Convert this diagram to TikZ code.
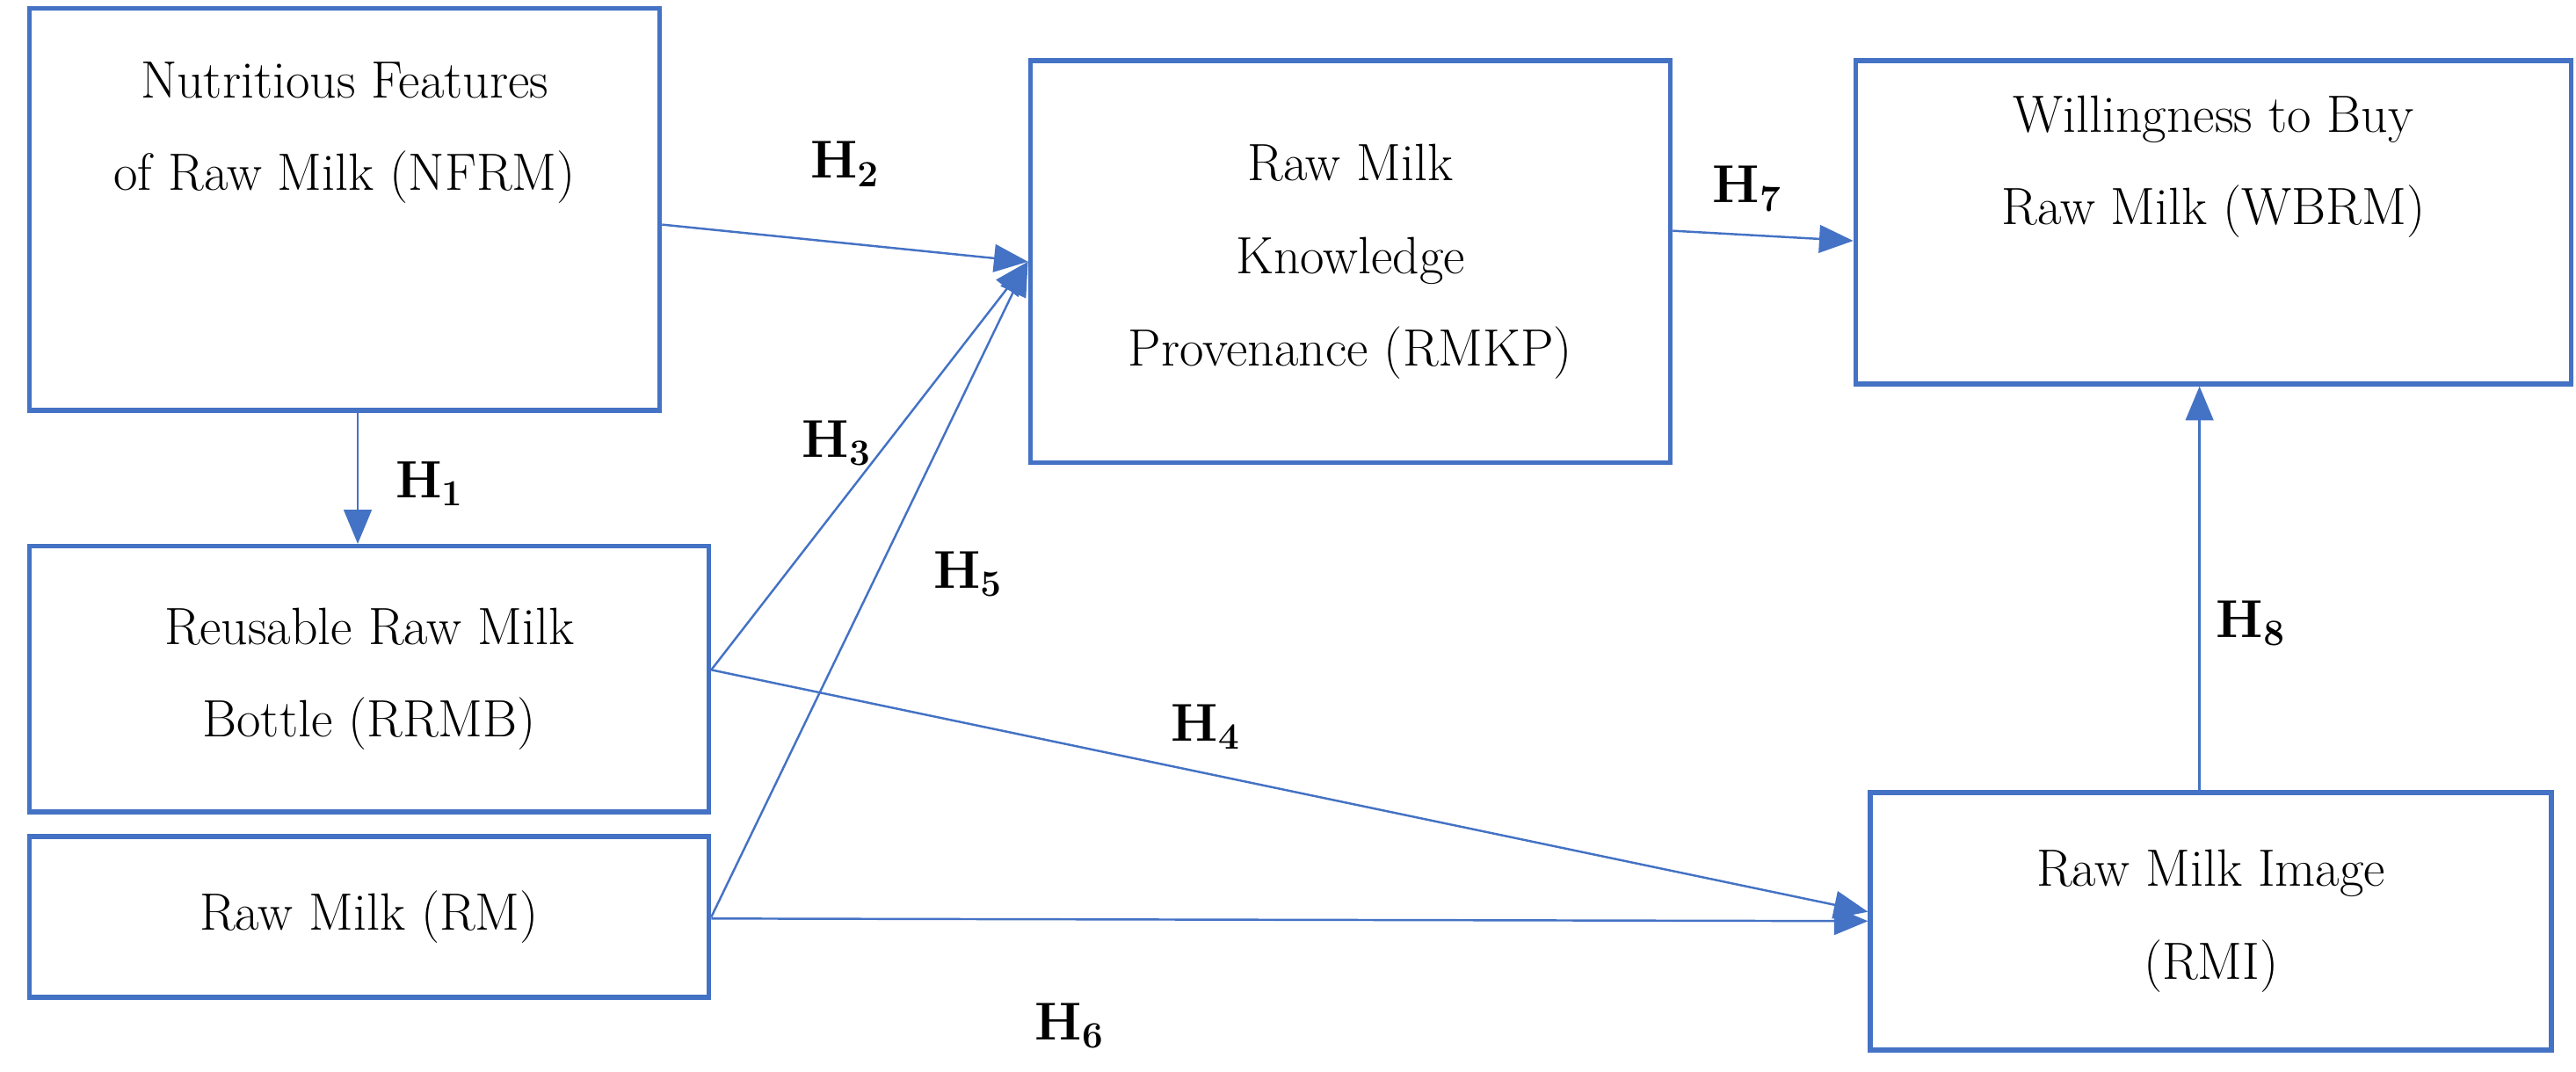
\documentclass[tikz,border=0pt]{standalone}
\usetikzlibrary{arrows.meta}
\definecolor{boxblue}{RGB}{68,114,196}
\tikzset{
  cbox/.style={draw=boxblue, line width=1.6pt, align=center, inner sep=0pt,
    font=\fontsize{17}{30}\selectfont},
  hyp/.style={draw=boxblue, line width=0.7pt, -{Triangle[length=11pt,width=9pt]}},
  hlab/.style={font=\fontsize{17}{20}\selectfont\bfseries}
}
\begin{document}
\begin{tikzpicture}[x=0.01867cm,y=-0.01867cm]
      \useasboundingbox (0,0) rectangle (1570,653);
      % boxes
      \node[cbox, minimum width=384*0.01867cm, minimum height=245*0.01867cm] (nfrm) at (210,127.5) {Nutritious Features\\of Raw Milk (NFRM)\\[1.4em]};
      \node[cbox, minimum width=414*0.01867cm, minimum height=162*0.01867cm] (rrmb) at (225,414) {Reusable Raw Milk\\Bottle (RRMB)};
      \node[cbox, minimum width=414*0.01867cm, minimum height=98*0.01867cm] (rm) at (225,559) {Raw Milk (RM)};
      \node[cbox, minimum width=390*0.01867cm, minimum height=245*0.01867cm] (rmkp) at (823,159.5) {Raw Milk\\Knowledge\\Provenance (RMKP)};
      \node[cbox, minimum width=436*0.01867cm, minimum height=197*0.01867cm] (wbrm) at (1349,135.5) {Willingness to Buy\\Raw Milk (WBRM)\\[0.6em]};
      \node[cbox, minimum width=415*0.01867cm, minimum height=157*0.01867cm] (rmi) at (1347.5,561.5) {Raw Milk Image\\(RMI)};
      % paths
      \draw[hyp] ([xshift=0.15cm]nfrm.south) -- ([xshift=0.15cm]nfrm.south |- rrmb.north);
      \draw[hyp] ([yshift=-5pt]nfrm.east) -- (rmkp.west);
      \draw[hyp] ([yshift=3pt]rrmb.east) -- (rmkp.west);
      \draw[hyp] (rm.east) -- (rmkp.west);
      \draw[hyp] ([yshift=3pt]rrmb.east) -- ([yshift=3pt]rmi.west);
      \draw[hyp] ([yshift=-0.5pt]rm.east) -- (rmi.west);
      \draw[hyp] ([yshift=10pt]rmkp.east) -- ([yshift=-6pt]wbrm.west);
      \draw[hyp] ([xshift=-0.13cm]rmi.north) -- ([xshift=-0.13cm]rmi.north |- wbrm.south);
      % labels
      \node[hlab] (h1) at (262,295) {H\textsubscript{1}};
      \node[hlab] (h2) at (515,100) {$\mathbf{H_2}$};
      \node[hlab] (h3) at (510,270) {$\mathbf{H_3}$};
      \node[hlab] (h4) at (735,443) {$\mathbf{H_4}$};
      \node[hlab] (h5) at (590,350) {$\mathbf{H_5}$};
      \node[hlab] (h6) at (652,625) {$\mathbf{H_6}$};
      \node[hlab] (h7) at (1065,115) {$\mathbf{H_7}$};
      \node[hlab] (h8) at (1372,380) {$\mathbf{H_8}$};
\end{tikzpicture}
\end{document}
